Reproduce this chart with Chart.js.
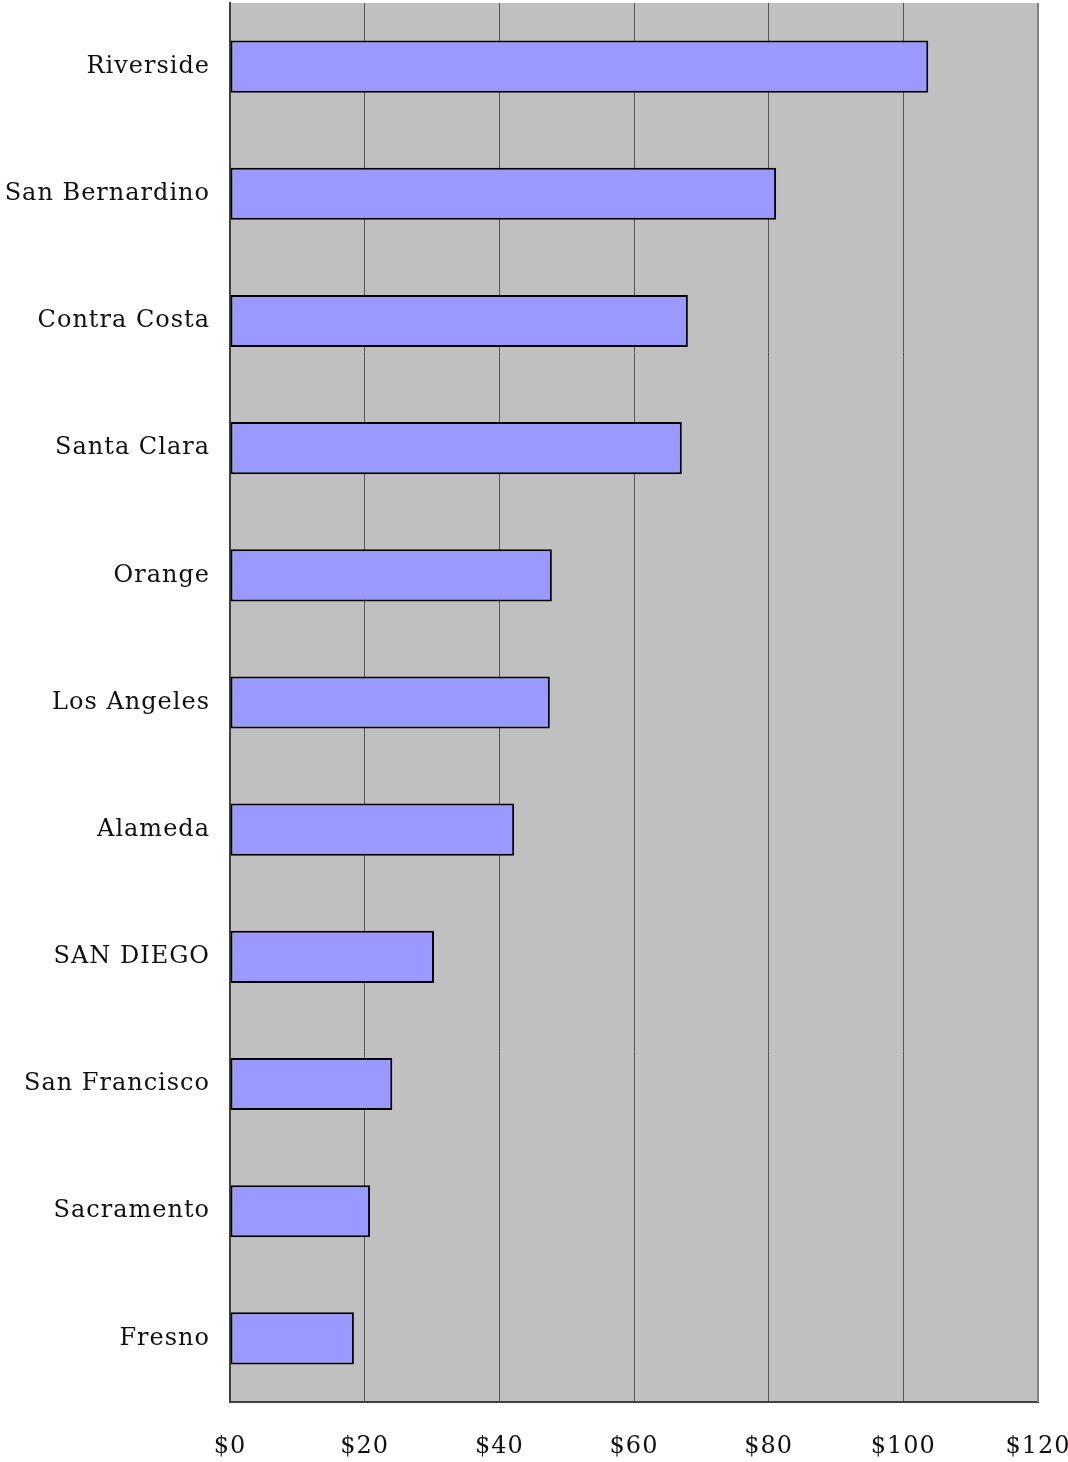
<!DOCTYPE html>
<html>
<head>
<meta charset="utf-8">
<script src="https://cdn.jsdelivr.net/npm/chart.js@4/dist/chart.umd.min.js"></script>
<style>
html,body{margin:0;padding:0;background:#fff;}
#wrap{width:1068px;height:1462px;}
</style>
</head>
<body>
<div id="wrap"><canvas id="c" width="1068" height="1462"></canvas></div>
<script>
const categories = ["Riverside","San Bernardino","Contra Costa","Santa Clara","Orange","Los Angeles","Alameda","SAN DIEGO","San Francisco","Sacramento","Fresno"];
const values = [103.7, 81.1, 68.0, 67.1, 47.8, 47.5, 42.2, 30.3, 24.1, 20.8, 18.4];
const xTickLabels = ["$0","$20","$40","$60","$80","$100","$120"];

const bgPlugin = {
  id: 'plotBg',
  beforeLayout(chart) { chart.ctx.letterSpacing = '1px'; },
  beforeDraw(chart) {
    const {ctx, chartArea: a} = chart;
    ctx.letterSpacing = '1px';
    ctx.save();
    ctx.fillStyle = '#c0c0c0';
    ctx.fillRect(a.left, a.top, a.right - a.left, a.bottom - a.top);
    ctx.restore();
  },
  afterDatasetsDraw(chart) {
    const {ctx, chartArea: a} = chart;
    ctx.save();
    ctx.strokeStyle = '#808080';
    ctx.lineWidth = 2;
    ctx.beginPath();
    ctx.moveTo(a.right, a.top);
    ctx.lineTo(a.right, a.bottom);
    ctx.stroke();
    ctx.restore();
  }
};

new Chart(document.getElementById('c'), {
  type: 'bar',
  data: {
    labels: categories,
    datasets: [{
      data: values,
      backgroundColor: '#9999ff',
      borderColor: '#000000',
      borderWidth: 2,
      borderSkipped: false,
      barPercentage: 0.41,
      categoryPercentage: 1.0
    }]
  },
  options: {
    indexAxis: 'y',
    responsive: false,
    animation: false,
    devicePixelRatio: 1,
    layout: { padding: { top: 3, right: 30, left: 0, bottom: 0 } },
    plugins: { legend: { display: false }, tooltip: { enabled: false } },
    scales: {
      x: {
        min: 0, max: 120,
        ticks: {
          stepSize: 20,
          padding: 30,
          maxRotation: 0,
          color: '#111',
          font: { family: 'DejaVu Serif', size: 24 },
          callback: (v, i) => xTickLabels[i]
        },
        grid: { color: '#555555', lineWidth: 1, drawTicks: false },
        border: { color: '#404040', width: 2 },
        afterFit(s) { s.height = 60; s.paddingLeft = 0; s.paddingRight = 0; }
      },
      y: {
        ticks: {
          padding: 20,
          color: '#111',
          font: { family: 'DejaVu Serif', size: 24 }
        },
        grid: { display: false, drawTicks: false },
        border: { color: '#404040', width: 2 },
        afterFit(s) { s.width = 230; s.paddingTop = 0; s.paddingBottom = 0; }
      }
    }
  },
  plugins: [bgPlugin]
});
</script>
</body>
</html>
